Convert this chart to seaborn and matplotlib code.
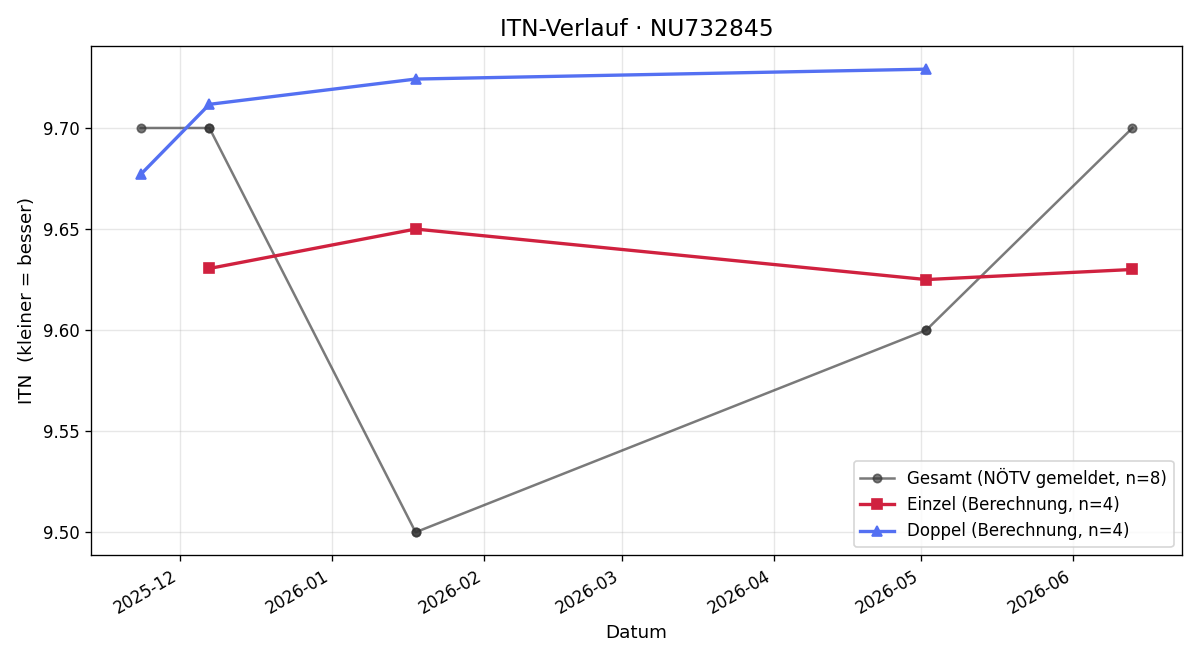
import matplotlib
matplotlib.use('Agg')
import pandas as pd
import seaborn as sns
import matplotlib.pyplot as plt
import matplotlib.dates as mdates

# Gesamt (NÖTV gemeldet) - some dates appear twice (overlapping points)
gesamt_dates = ['2025-11-23', '2025-12-07', '2025-12-07', '2026-01-18', '2026-01-18',
                '2026-05-02', '2026-05-02', '2026-06-13']
gesamt_itn = [9.70, 9.70, 9.70, 9.50, 9.50, 9.60, 9.60, 9.70]

einzel_dates = ['2025-12-07', '2026-01-18', '2026-05-02', '2026-06-13']
einzel_itn = [9.6305, 9.650, 9.625, 9.630]

doppel_dates = ['2025-11-23', '2025-12-07', '2026-01-18', '2026-05-02']
doppel_itn = [9.677, 9.7117, 9.7242, 9.7291]

dfG = pd.DataFrame({'datum': pd.to_datetime(gesamt_dates), 'itn': gesamt_itn})
dfE = pd.DataFrame({'datum': pd.to_datetime(einzel_dates), 'itn': einzel_itn})
dfD = pd.DataFrame({'datum': pd.to_datetime(doppel_dates), 'itn': doppel_itn})

fig, ax = plt.subplots(figsize=(10, 5.5), dpi=120)

sns.lineplot(data=dfG, x='datum', y='itn', estimator=None, sort=False, ax=ax,
             color='#333333', alpha=0.65, marker='o', markersize=5,
             markeredgecolor='#333333', markeredgewidth=1,
             linewidth=1.5, label='Gesamt (NÖTV gemeldet, n=%d)' % len(gesamt_itn))
sns.lineplot(data=dfE, x='datum', y='itn', estimator=None, sort=False, ax=ax,
             color='#d0213f', marker='s', markersize=6,
             markeredgecolor='#d0213f', markeredgewidth=1,
             linewidth=2, label='Einzel (Berechnung, n=%d)' % len(einzel_itn))
sns.lineplot(data=dfD, x='datum', y='itn', estimator=None, sort=False, ax=ax,
             color='#5470f2', marker='^', markersize=6,
             markeredgecolor='#5470f2', markeredgewidth=1,
             linewidth=2, label='Doppel (Berechnung, n=%d)' % len(doppel_itn))

ax.xaxis.set_major_locator(mdates.MonthLocator())
ax.xaxis.set_major_formatter(mdates.DateFormatter('%Y-%m'))
ax.yaxis.set_major_formatter(matplotlib.ticker.FormatStrFormatter('%.2f'))
ax.grid(True, alpha=0.3)
ax.set_title('ITN-Verlauf · NU732845', fontsize=14)
ax.set_xlabel('Datum', fontsize=11)
ax.set_ylabel('ITN  (kleiner = besser)', fontsize=11)
ax.legend(loc='lower right', fontsize=10)
fig.autofmt_xdate()
plt.tight_layout()
plt.savefig('out.png', dpi=120)
